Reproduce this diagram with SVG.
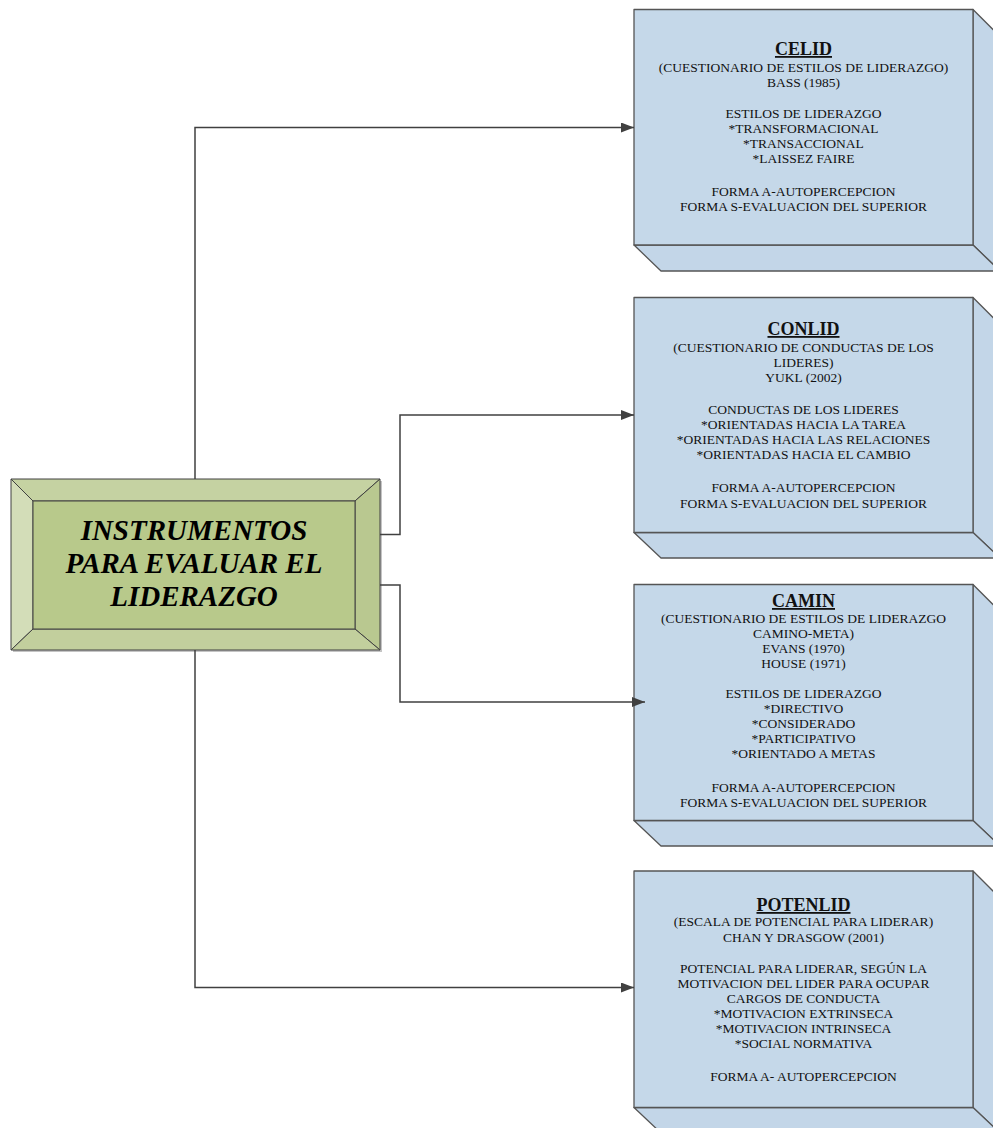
<svg xmlns="http://www.w3.org/2000/svg" width="993" height="1128" viewBox="0 0 993 1128">
<style>
.face{fill:#c5d8e9;stroke:#555;stroke-width:1.3;stroke-linejoin:round}
.side{fill:#c3d6e8;stroke:#555;stroke-width:1.3;stroke-linejoin:round}
.bev{stroke:#404040;stroke-width:1;stroke-linejoin:round}
.conn{fill:none;stroke:#404040;stroke-width:1.5}
.ttl{font-family:"Liberation Serif","Times New Roman",serif;font-size:18px;font-weight:bold;text-decoration:underline;fill:#111;text-anchor:middle}
.bd{font-family:"Liberation Serif","Times New Roman",serif;font-size:13.5px;fill:#111;text-anchor:middle}
.main{font-family:"Liberation Serif","Times New Roman",serif;font-size:29px;font-weight:bold;font-style:italic;fill:#000;text-anchor:middle}
</style>
<defs>
<marker id="arr" markerUnits="userSpaceOnUse" markerWidth="14" markerHeight="11" refX="13" refY="5" orient="auto">
<path d="M0,0 L13,5 L0,10 z" fill="#404040"/>
</marker>
</defs>
<rect width="993" height="1128" fill="#ffffff"/>

<g id="main-node">
<rect x="13" y="481" width="369" height="171" fill="#8a8a8a" opacity="0.5"/>
<polygon class="bev" points="11,479 380,479 355,501 33,501" fill="#c5d2a2"/>
<polygon class="bev" points="11,479 33,501 33,629 11,650" fill="#d3ddb8"/>
<polygon class="bev" points="380,479 380,650 355,629 355,501" fill="#b9c890"/>
<polygon class="bev" points="11,650 33,629 355,629 380,650" fill="#c2cf9d"/>
<rect class="bev" x="33" y="501" width="322" height="128" fill="#b8c98b"/>
<text class="main" x="194" y="540">INSTRUMENTOS</text>
<text class="main" x="194" y="573">PARA EVALUAR EL</text>
<text class="main" x="194" y="606">LIDERAZGO</text>
</g>

<g id="celid">
<polygon class="side" points="973,9.5 1000,36.5 1000,271 973,245"/>
<polygon class="side" points="634,245 661,271 1000,271 973,245"/>
<rect class="face" x="634" y="9.5" width="339" height="235.5"/>
<text class="ttl" x="803.5" y="55">CELID</text>
<text class="bd" x="803.5" y="71.5">(CUESTIONARIO DE ESTILOS DE LIDERAZGO)</text>
<text class="bd" x="803.5" y="87">BASS (1985)</text>
<text class="bd" x="803.5" y="118">ESTILOS DE LIDERAZGO</text>
<text class="bd" x="803.5" y="133">*TRANSFORMACIONAL</text>
<text class="bd" x="803.5" y="148">*TRANSACCIONAL</text>
<text class="bd" x="803.5" y="163">*LAISSEZ FAIRE</text>
<text class="bd" x="803.5" y="195.5">FORMA A-AUTOPERCEPCION</text>
<text class="bd" x="803.5" y="211">FORMA S-EVALUACION DEL SUPERIOR</text>
</g>

<g id="conlid">
<polygon class="side" points="973,297.5 1000,324.5 1000,558 973,532.5"/>
<polygon class="side" points="634,532.5 661,558 1000,558 973,532.5"/>
<rect class="face" x="634" y="297.5" width="339" height="235"/>
<text class="ttl" x="803.5" y="335">CONLID</text>
<text class="bd" x="803.5" y="352">(CUESTIONARIO DE CONDUCTAS DE LOS</text>
<text class="bd" x="803.5" y="367">LIDERES)</text>
<text class="bd" x="803.5" y="382">YUKL (2002)</text>
<text class="bd" x="803.5" y="414">CONDUCTAS DE LOS LIDERES</text>
<text class="bd" x="803.5" y="429">*ORIENTADAS HACIA LA TAREA</text>
<text class="bd" x="803.5" y="444">*ORIENTADAS HACIA LAS RELACIONES</text>
<text class="bd" x="803.5" y="459">*ORIENTADAS HACIA EL CAMBIO</text>
<text class="bd" x="803.5" y="492">FORMA A-AUTOPERCEPCION</text>
<text class="bd" x="803.5" y="508">FORMA S-EVALUACION DEL SUPERIOR</text>
</g>

<g id="camin">
<polygon class="side" points="973,584.5 1000,611.5 1000,846 973,820.5"/>
<polygon class="side" points="634,820.5 661,846 1000,846 973,820.5"/>
<rect class="face" x="634" y="584.5" width="339" height="236"/>
<text class="ttl" x="803.5" y="607">CAMIN</text>
<text class="bd" x="803.5" y="623">(CUESTIONARIO DE ESTILOS DE LIDERAZGO</text>
<text class="bd" x="803.5" y="638">CAMINO-META)</text>
<text class="bd" x="803.5" y="653">EVANS (1970)</text>
<text class="bd" x="803.5" y="668">HOUSE (1971)</text>
<text class="bd" x="803.5" y="698">ESTILOS DE LIDERAZGO</text>
<text class="bd" x="803.5" y="713">*DIRECTIVO</text>
<text class="bd" x="803.5" y="728">*CONSIDERADO</text>
<text class="bd" x="803.5" y="743">*PARTICIPATIVO</text>
<text class="bd" x="803.5" y="758">*ORIENTADO A METAS</text>
<text class="bd" x="803.5" y="792">FORMA A-AUTOPERCEPCION</text>
<text class="bd" x="803.5" y="807">FORMA S-EVALUACION DEL SUPERIOR</text>
</g>

<g id="potenlid">
<polygon class="side" points="973,871 1000,898 1000,1133 973,1107.5"/>
<polygon class="side" points="634,1107.5 661,1133 1000,1133 973,1107.5"/>
<rect class="face" x="634" y="871" width="339" height="236.5"/>
<text class="ttl" x="803.5" y="911">POTENLID</text>
<text class="bd" x="803.5" y="926">(ESCALA DE POTENCIAL PARA LIDERAR)</text>
<text class="bd" x="803.5" y="942">CHAN Y DRASGOW (2001)</text>
<text class="bd" x="803.5" y="973">POTENCIAL PARA LIDERAR, SEGÚN LA</text>
<text class="bd" x="803.5" y="988">MOTIVACION DEL LIDER PARA OCUPAR</text>
<text class="bd" x="803.5" y="1003">CARGOS DE CONDUCTA</text>
<text class="bd" x="803.5" y="1018">*MOTIVACION EXTRINSECA</text>
<text class="bd" x="803.5" y="1033">*MOTIVACION INTRINSECA</text>
<text class="bd" x="803.5" y="1048">*SOCIAL NORMATIVA</text>
<text class="bd" x="803.5" y="1081">FORMA A- AUTOPERCEPCION</text>
</g>

<g id="connectors">
<path class="conn" d="M195,479 V127.5 H634" marker-end="url(#arr)"/>
<path class="conn" d="M380,534.5 H400 V415 H634" marker-end="url(#arr)"/>
<path class="conn" d="M380,585 H400 V702 H645" marker-end="url(#arr)"/>
<path class="conn" d="M195,650 V987.5 H634" marker-end="url(#arr)"/>
</g>
</svg>
